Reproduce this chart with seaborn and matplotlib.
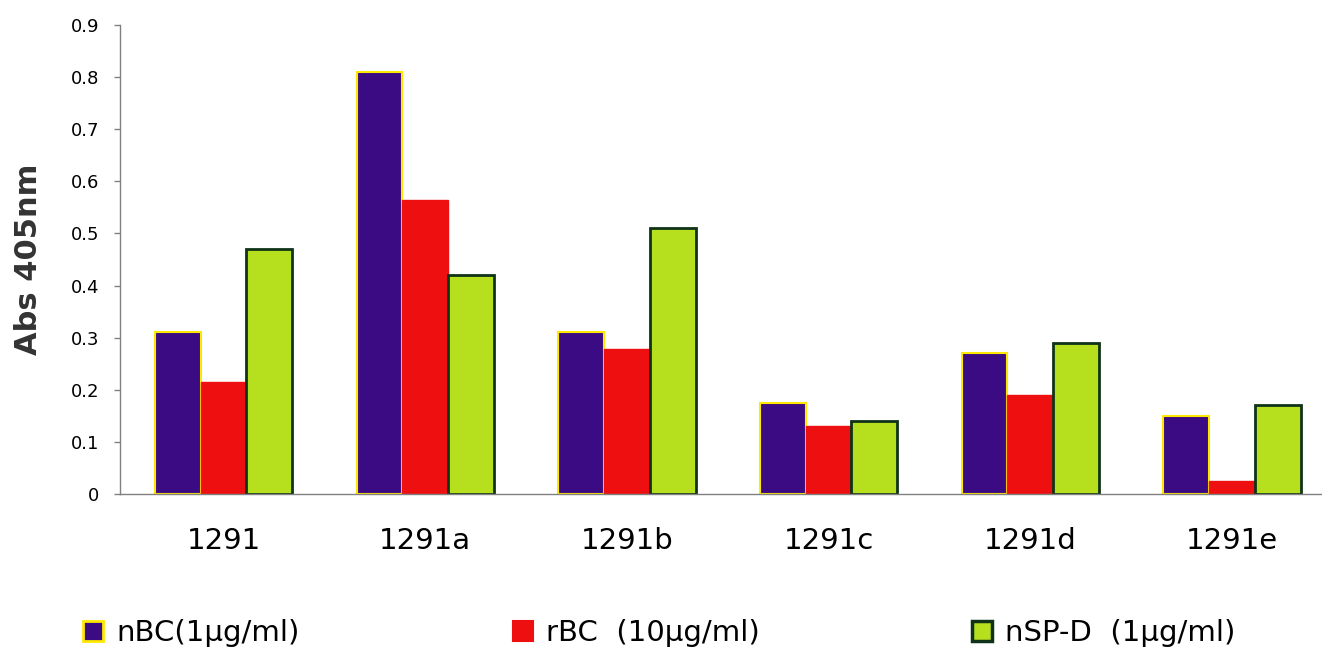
import numpy as np
import pandas as pd
import seaborn as sns
from matplotlib import pyplot as plt

# データ
samples = ['1291', '1291a', '1291b', '1291c', '1291d', '1291e']
series = ['nBC(1µg/ml)', 'rBC  (10µg/ml)', 'nSP-D  (1µg/ml)']
nbc = [0.31, 0.81, 0.31, 0.175, 0.27, 0.15]
rbc = [0.215, 0.565, 0.278, 0.13, 0.19, 0.025]
nspd = [0.47, 0.42, 0.51, 0.14, 0.29, 0.17]
yticks = [0, 0.1, 0.2, 0.3, 0.4, 0.5, 0.6, 0.7, 0.8, 0.9]
ytick_labels = ['0', '0.1', '0.2', '0.3', '0.4', '0.5', '0.6', '0.7', '0.8', '0.9']

df = pd.DataFrame({
    'sample': samples * 3,
    'series': [series[0]] * 6 + [series[1]] * 6 + [series[2]] * 6,
    'abs': nbc + rbc + nspd,
})

face_colors = ['#3a0b82', '#ee1010', '#b6df1e']
edge_colors = ['#ffe800', '#ee1010', '#0f3318']
edge_widths = [1.5, 1.0, 2.0]

sns.set_style('white')
plt.rcParams['font.family'] = ['DejaVu Sans']
plt.rcParams['text.color'] = 'black'

fig = plt.figure(figsize=(13.22, 6.5), dpi=100)
ax = fig.add_axes([0.0908, 0.24, 0.9092, 0.7215])

sns.barplot(data=df, x='sample', y='abs', hue='series', order=samples,
            hue_order=series, palette=face_colors, width=0.68, gap=0,
            saturation=1, ax=ax)

# 枠線の色
for cont, ec, lw in zip(ax.containers, edge_colors, edge_widths):
    for p in cont:
        p.set_edgecolor(ec)
        p.set_linewidth(lw)

handles, labels = ax.get_legend_handles_labels()
ax.get_legend().remove()
for h, ec, lw in zip(handles, edge_colors, edge_widths):
    h.set_edgecolor(ec)
    h.set_linewidth(lw + 0.5)

# 軸
ax.set_xlim(-0.513, 5.446)
ax.set_ylim(0, 0.9)
ax.set_yticks(yticks, ytick_labels)
ax.set_xlabel('')
ax.set_ylabel('Abs 405nm', fontsize=22, fontweight='bold', color='#333333')
ax.yaxis.set_label_coords(-0.064, 0.5)
for s in ['top', 'right']:
    ax.spines[s].set_visible(False)
for s in ['left', 'bottom']:
    ax.spines[s].set_color('#808080')
    ax.spines[s].set_linewidth(1.0)
ax.tick_params(axis='y', left=True, length=4, width=1, color='#808080',
               labelsize=13, pad=11, labelcolor='black')
ax.tick_params(axis='x', bottom=False, labelsize=21, pad=20,
               labelcolor='black')

# 凡例 (3つ別々に配置)
legend_x = [0.0628, 0.388, 0.735]
for h, lab, lx in zip(handles, labels, legend_x):
    fig.legend([h], [lab], loc='center left', bbox_to_anchor=(lx, 0.026),
               frameon=False, fontsize=21, handlelength=0.7,
               handleheight=0.7, handletextpad=0.45, borderpad=0,
               borderaxespad=0, labelcolor='black')

fig.savefig('out.png', dpi=100)
